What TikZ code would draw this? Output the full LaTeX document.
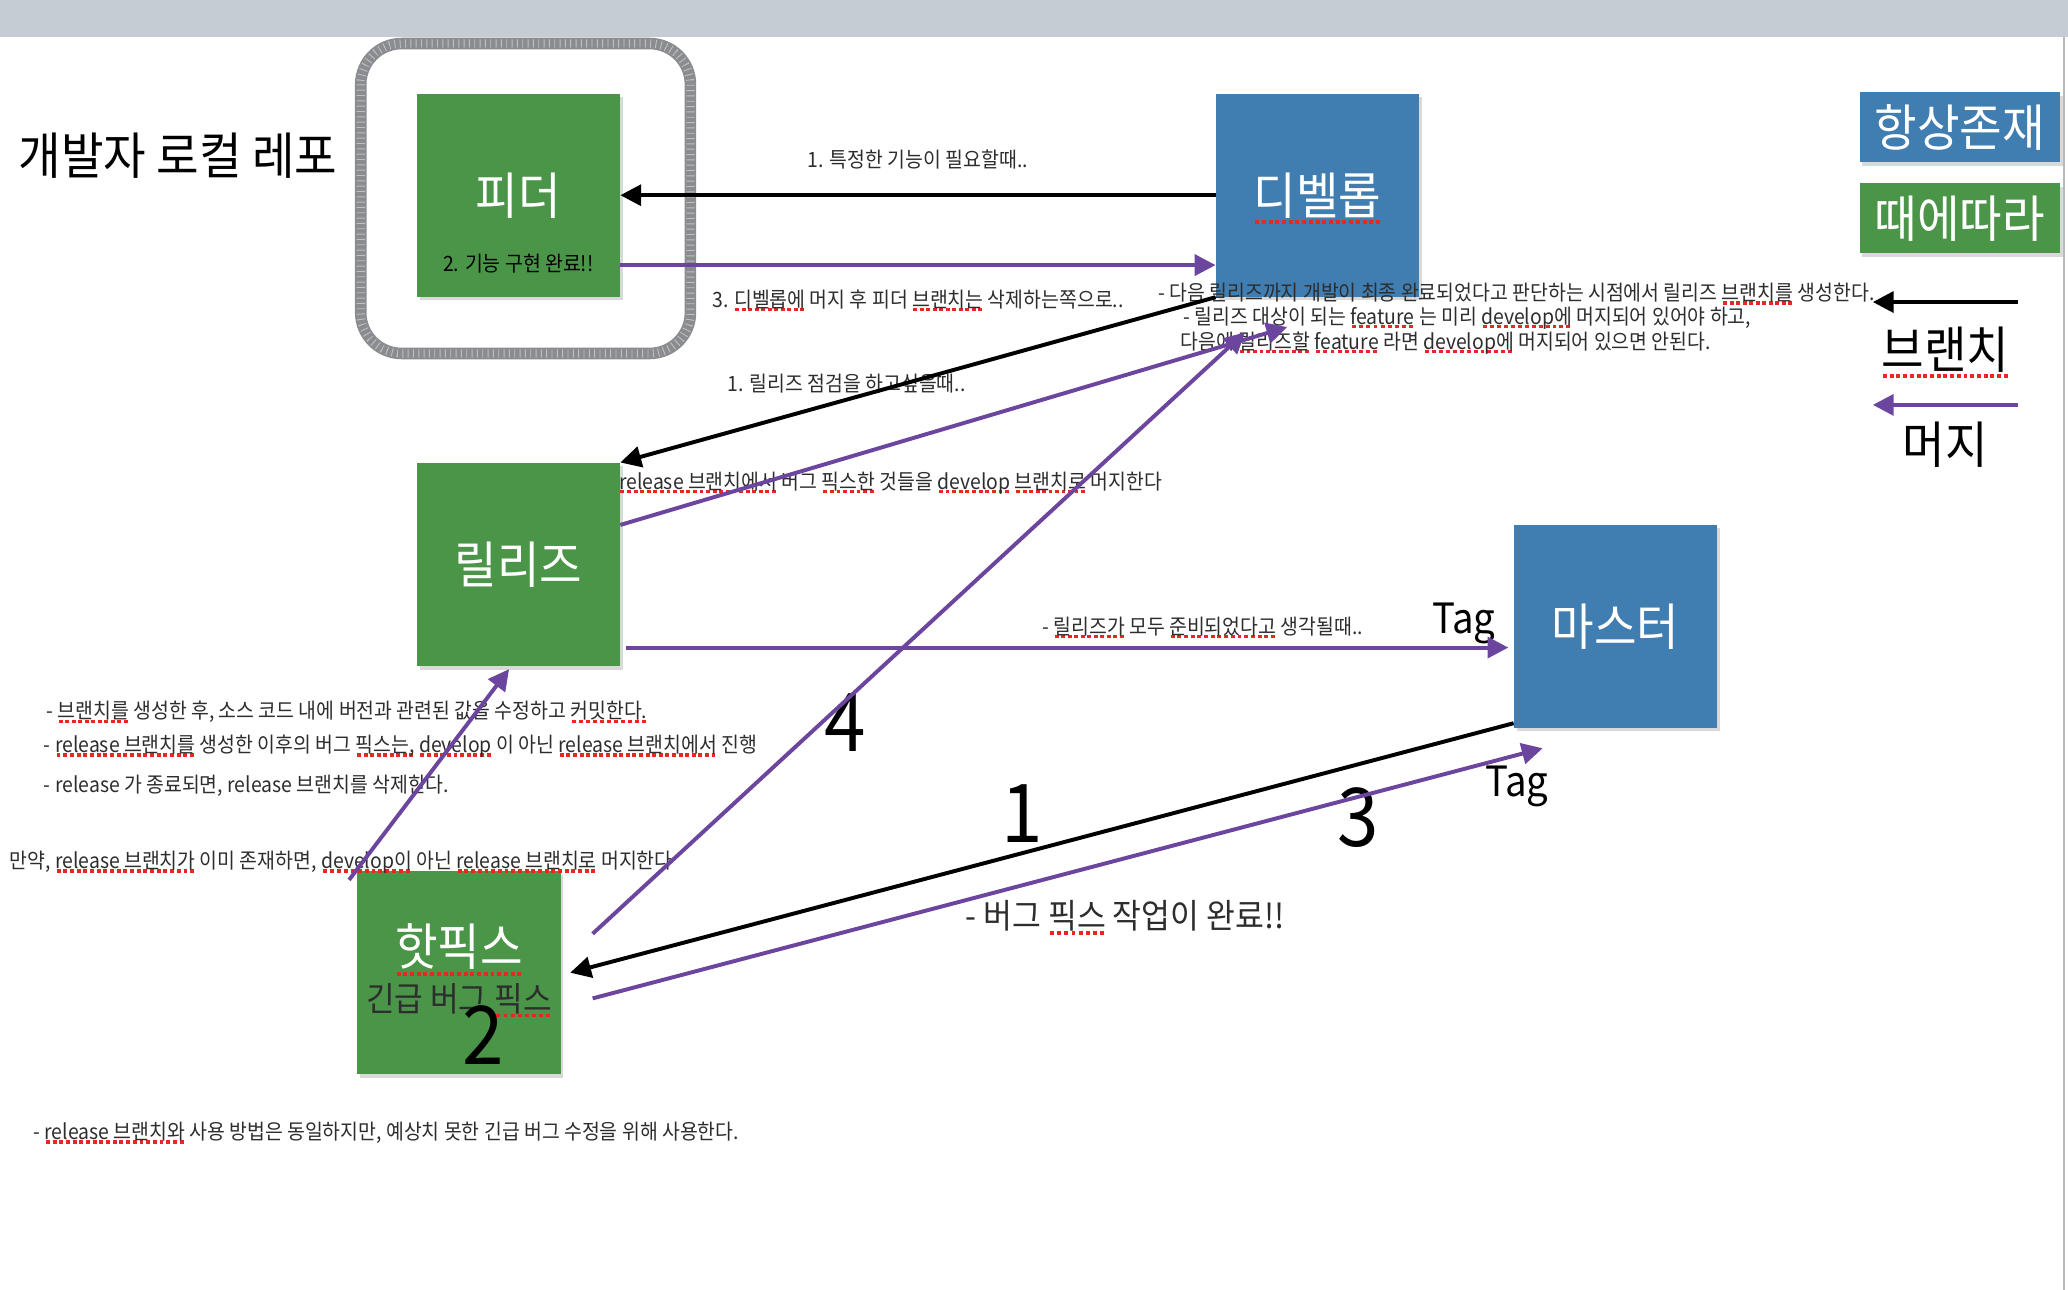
\documentclass[tikz,border=0pt]{standalone}
\usepackage{fontspec}
\setmainfont{Noto Sans CJK KR}[FakeStretch=0.92]
\usetikzlibrary{arrows.meta,shadows}

\definecolor{boxgreen}{RGB}{75,149,73}
\definecolor{boxblue}{RGB}{64,125,176}
\definecolor{mergepurple}{RGB}{108,70,158}
\definecolor{spellred}{RGB}{232,40,32}
\definecolor{notegray}{RGB}{45,45,45}
\definecolor{framegray}{RGB}{138,140,144}
\definecolor{topbar}{RGB}{198,204,212}

\newsavebox\spellbox
\newcommand\spell[1]{\leavevmode\sbox\spellbox{#1}%
  \rlap{\raisebox{-.19em}[0pt][0pt]{\hbox to\wd\spellbox{\xleaders\hbox{\kern.55pt\textcolor{spellred}{\rule{1.7pt}{1.5pt}}\kern.55pt}\hfill}}}%
  \usebox\spellbox}
\newcommand\notefont{\fontsize{9.1pt}{11pt}\selectfont}
\newcommand\bigfont{\fontsize{21.7pt}{25pt}\selectfont}
\newcommand\subfont{\fontsize{14.6pt}{18pt}\selectfont}
\newcommand\donefont{\fontsize{14.7pt}{18pt}\selectfont}
\newcommand\tagfont{\fontsize{18pt}{22pt}\selectfont}
\newcommand\numfont{\fontsize{35pt}{40pt}\selectfont}

\tikzset{
  branchbox/.style={minimum width=3.08cm, minimum height=3.08cm, inner sep=0pt,
    text=white, font=\bigfont,
    drop shadow={shadow xshift=1.2pt, shadow yshift=-1.5pt, opacity=.3}},
  always/.style={branchbox, fill=boxblue},
  sometimes/.style={branchbox, fill=boxgreen},
  keybox/.style={always, minimum width=3.04cm, minimum height=1.06cm},
  note/.style={font=\notefont, text=notegray, inner sep=0pt},
  label/.style={inner sep=0pt},
  bignum/.style={font=\numfont, inner sep=0pt},
  branchline/.style={draw=black, line width=1.7pt, -{Triangle[length=9pt,width=9pt]}},
  mergeline/.style={branchline, draw=mergepurple},
  chalk/.style={draw=framegray, line width=5pt, rounded corners=0.62cm},
  chalkgrain/.style={draw=white, opacity=.45, line width=3.6pt, rounded corners=0.62cm,
    dash pattern=on .4pt off 1.9pt}
}

\begin{document}
\begin{tikzpicture}[x=0.02cm, y=-0.02cm]
  \useasboundingbox (0,0) rectangle (1568,978);
  \fill[topbar] (0,0) rectangle (1568,28);
  \draw[framegray!60, line width=1pt] (1565,28) -- (1565,978);
  \draw[chalk] (273.5,33) rectangle (523.5,268);
  \draw[chalkgrain] (273.5,33) rectangle (523.5,268);

  \node[label, font=\bigfont] (title) at (135,118) {개발자 로컬 레포};

  \node[sometimes] (feeder) at (393,148) {피더};
  \node[always] (develop) at (999,148) {\spell{디벨롭}};
  \node[sometimes] (release) at (393,428) {릴리즈};
  \node[always] (master) at (1225,475) {마스터};
  \node[sometimes] (hotfix) at (348,737.5) {};
  \node[note, text=black] (feeder-done) at (393,200) {2. 기능 구현 완료!!};
  \node[label, font=\bigfont, text=white] (hotfix-name) at (348,718) {\spell{핫픽스}};
  \node[label, font=\subfont, text=notegray] (hotfix-sub) at (348,757) {긴급 버그 \spell{픽스}};

  \node[keybox] (key-always) at (1486,96.5) {항상존재};
  \node[keybox, fill=boxgreen] (key-sometimes) at (1486,165.5) {때에따라};
  \coordinate (key-branch-start) at (1530,229);
  \coordinate (key-branch-end) at (1420,229);
  \coordinate (key-merge-start) at (1530,307);
  \coordinate (key-merge-end) at (1420,307);
  \node[label, font=\bigfont] (key-branch) at (1475,265) {\spell{브랜치}};
  \node[label, font=\bigfont] (key-merge) at (1475,337) {머지};

  \node[note] (need-feature) at (696,121) {1. 특정한 기능이 필요할때..};
  \node[note] (feature-merged) at (696,227) {3. \spell{디벨롭에} 머지 후 피더 \spell{브랜치는} 삭제하는쪽으로..};
  \node[note] (want-check) at (642,291) {1. 릴리즈 점검을 하고싶을때..};
  \node[note, anchor=west] (fix-back) at (469,366) {\spell{release 브랜치에서} 버그 \spell{픽스한} 것들을 \spell{develop} \spell{브랜치로} 머지한다};
  \node[note, anchor=west] (dev-note1) at (878,222) {- 다음 릴리즈까지 개발이 최종 완료되었다고 판단하는 시점에서 릴리즈 \spell{브랜치를} 생성한다.};
  \node[note, anchor=west] (dev-note2) at (897,241) {- 릴리즈 대상이 되는 \spell{feature} 는 미리 \spell{develop에} 머지되어 있어야 하고,};
  \node[note, anchor=west] (dev-note3) at (895,260) {다음에 \spell{릴리즈할} \spell{feature} 라면 \spell{develop에} 머지되어 있으면 안된다.};
  \node[note, anchor=west] (ready) at (790,475) {- \spell{릴리즈가} 모두 \spell{준비되었다고} 생각될때..};
  \node[label, font=\tagfont] (tag-release) at (1110,473) {Tag};
  \node[label, font=\tagfont] (tag-hotfix) at (1150,596) {Tag};
  \node[label, font=\donefont, text=notegray] (fix-done) at (853,694) {- 버그 \spell{픽스} 작업이 완료!!};

  \node[note, anchor=west] (rel-note1) at (35,540) {- \spell{브랜치를} 생성한 후, 소스 코드 내에 버전과 관련된 값을 수정하고 \spell{커밋한다.}};
  \node[note, anchor=west] (rel-note2) at (33,566) {- \spell{release 브랜치를} 생성한 이후의 버그 \spell{픽스는,} \spell{develop} 이 아닌 \spell{release 브랜치에서} 진행};
  \node[note, anchor=west] (rel-note3) at (33,596) {- release 가 종료되면, release 브랜치를 삭제한다.};
  \node[note, anchor=west] (rel-note4) at (7,654) {만약, \spell{release 브랜치가} 이미 존재하면, \spell{develop이} 아닌 \spell{release 브랜치로} 머지한다};
  \node[note, anchor=west] (hot-note) at (25,859) {- \spell{release 브랜치와} 사용 방법은 동일하지만, 예상치 못한 긴급 버그 수정을 위해 사용한다.};

  \node[bignum] (step1) at (775,617) {1};
  \node[bignum] (step2) at (366,785) {2};
  \node[bignum] (step3) at (1030,620) {3};
  \node[bignum] (step4) at (641,548) {4};

  \path
    (develop.west) edge[branchline] (feeder.east)
    (develop.south west) edge[branchline] (release.north east)
    ([yshift=0.08cm]master.south west) edge[branchline] ([xshift=0.14cm]hotfix.east)
    (key-branch-start) edge[branchline] (key-branch-end);
  \path
    ([yshift=-1.06cm]feeder.east) edge[mergeline] ([yshift=-1.06cm]develop.west)
    ([yshift=0.6cm]release.east) edge[mergeline] ([shift={(-23,100)}]develop.center)
    ([shift={(24,-29.5)}]hotfix.east) edge[mergeline] ([shift={(-55,104)}]develop.center)
    ([shift={(4,63)}]release.east) edge[mergeline] ([shift={(-4,16)}]master.west)
    ([shift={(24,19.5)}]hotfix.east) edge[mergeline] ([shift={(22,15)}]master.south west)
    ([shift={(-6,7)}]hotfix.north west) edge[mergeline] ([shift={(-7,2)}]release.south)
    (key-merge-start) edge[mergeline] (key-merge-end);
\end{tikzpicture}
\end{document}
